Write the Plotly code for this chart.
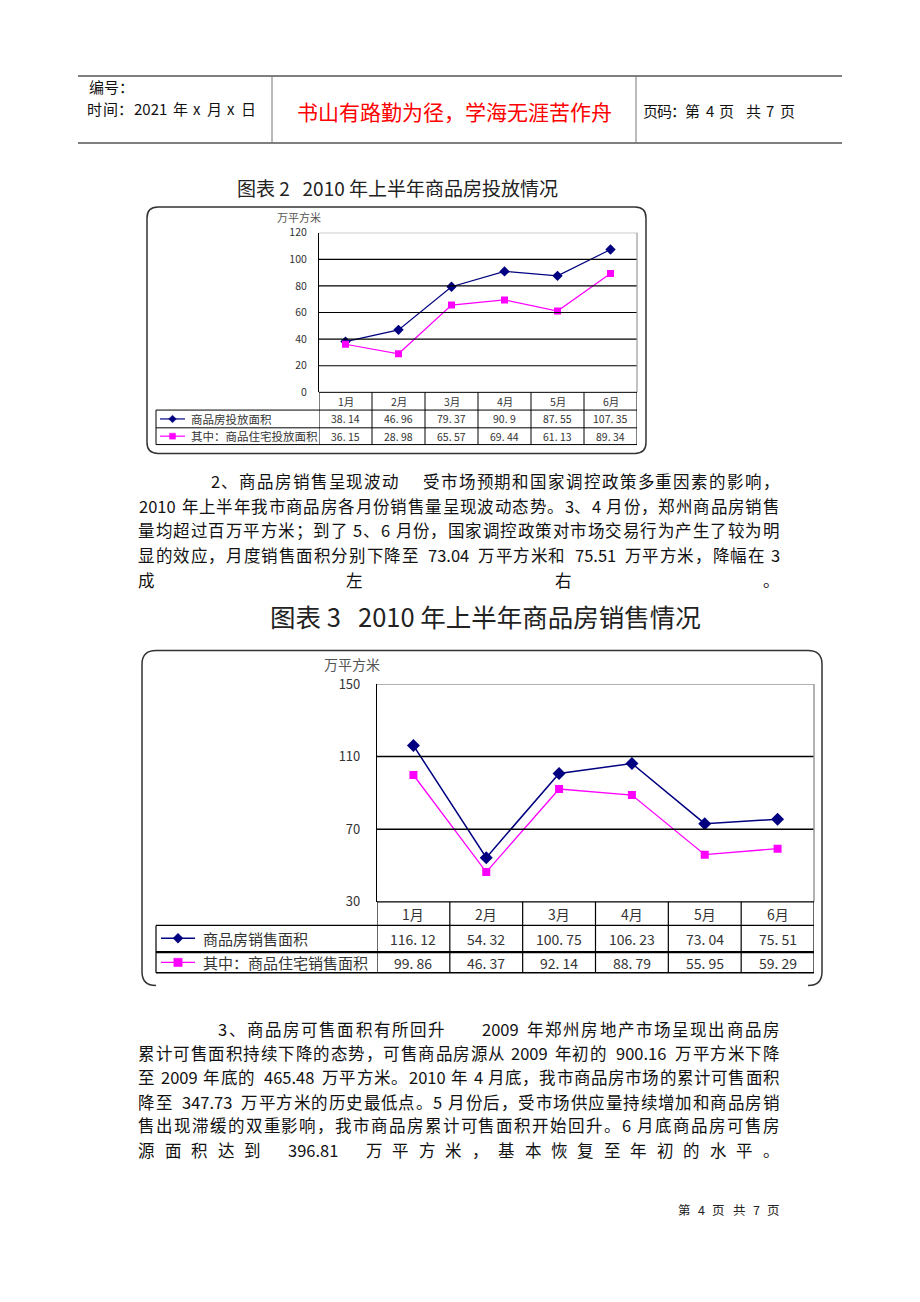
import plotly.graph_objects as go

W, H = 920, 1302
FONT = "Noto Sans CJK SC"
NB = "\u00a0"

# ---------------- data ----------------
months = ["1月", "2月", "3月", "4月", "5月", "6月"]
supply_total = [38.14, 46.96, 79.37, 90.9, 87.55, 107.35]
supply_resid = [36.15, 28.98, 65.57, 69.44, 61.13, 89.34]
sales_total = [116.12, 54.32, 100.75, 106.23, 73.04, 75.51]
sales_resid = [99.86, 46.37, 92.14, 88.79, 55.95, 59.29]
supply_ticks = [0, 20, 40, 60, 80, 100, 120]
sales_ticks = [30, 70, 110, 150]
supply_names = ["商品房投放面积", "其中：商品住宅投放面积"]
sales_names = ["商品房销售面积", "其中：商品住宅销售面积"]
unit_label = "万平方米"
title2 = "图表 2" + NB * 3 + "2010 年上半年商品房投放情况"
title3 = "图表 3" + NB * 3 + "2010 年上半年商品房销售情况"

header_left = ["编号：", "时间：2021 年 x 月 x 日"]
header_mid = "书山有路勤为径，学海无涯苦作舟"
header_right = "页码：第 4 页  共 7 页"
footer = "第 4 页 共 7 页"

para1 = [
    "2、商品房销售呈现波动    受市场预期和国家调控政策多重因素的影响，",
    "2010 年上半年我市商品房各月份销售量呈现波动态势。3、4 月份，郑州商品房销售",
    "量均超过百万平方米；到了 5、6 月份，国家调控政策对市场交易行为产生了较为明",
    "显的效应，月度销售面积分别下降至 73.04 万平方米和 75.51 万平方米，降幅在 3",
    "成左右。",
]
para2 = [
    "3、商品房可售面积有所回升      2009 年郑州房地产市场呈现出商品房",
    "累计可售面积持续下降的态势，可售商品房源从 2009 年初的 900.16 万平方米下降",
    "至 2009 年底的 465.48 万平方米。2010 年 4 月底，我市商品房市场的累计可售面积",
    "降至 347.73 万平方米的历史最低点。5 月份后，受市场供应量持续增加和商品房销",
    "售出现滞缓的双重影响，我市商品房累计可售面积开始回升。6 月底商品房可售房",
    "源面积达到 396.81 万平方米，基本恢复至年初的水平。",
]

# ---------------- helpers ----------------
def X(x):
    return x / W


def Y(y):
    return 1 - y / H


annotations = []
shapes = []


def text(t, x, y, size, color="#000", xanchor="center", xref="paper", family=FONT):
    annotations.append(dict(
        text=t, x=(X(x) if xref == "paper" else x), y=Y(y), xref=xref, yref="paper",
        showarrow=False, xanchor=xanchor, yanchor="middle",
        font=dict(family=family, size=size, color=color)))


def line(x0, y0, x1, y1, color="#000", width=1.0, xref="paper"):
    shapes.append(dict(
        type="line", xref=xref, yref="paper",
        x0=(X(x0) if xref == "paper" else x0), x1=(X(x1) if xref == "paper" else x1),
        y0=Y(y0), y1=Y(y1), line=dict(color=color, width=width)))


def P(x, y):
    return f"{X(x):.5f},{Y(y):.5f}"


def rounded_frame(x0, y0, x1, y1, r, open_bottom=False, color="#333", width=1.5):
    if open_bottom:
        path = (f"M {P(x1 - r, y1)} Q {P(x1, y1)} {P(x1, y1 - r)} L {P(x1, y0 + r)} "
                f"Q {P(x1, y0)} {P(x1 - r, y0)} L {P(x0 + r, y0)} Q {P(x0, y0)} {P(x0, y0 + r)} "
                f"L {P(x0, y1 - r)} Q {P(x0, y1)} {P(x0 + r, y1)}")
    else:
        path = (f"M {P(x0 + r, y0)} L {P(x1 - r, y0)} Q {P(x1, y0)} {P(x1, y0 + r)} "
                f"L {P(x1, y1 - r)} Q {P(x1, y1)} {P(x1 - r, y1)} L {P(x0 + r, y1)} "
                f"Q {P(x0, y1)} {P(x0, y1 - r)} L {P(x0, y0 + r)} Q {P(x0, y0)} {P(x0 + r, y0)} Z")
    shapes.append(dict(type="path", xref="paper", yref="paper", path=path,
                       line=dict(color=color, width=width)))


def diamond(cx, cy, r, color):
    path = f"M {P(cx, cy - r)} L {P(cx + r, cy)} L {P(cx, cy + r)} L {P(cx - r, cy)} Z"
    shapes.append(dict(type="path", xref="paper", yref="paper", path=path,
                       fillcolor=color, line=dict(color=color, width=0.5)))


def square(cx, cy, r, color):
    shapes.append(dict(type="rect", xref="paper", yref="paper",
                       x0=X(cx - r), x1=X(cx + r), y0=Y(cy + r), y1=Y(cy - r),
                       fillcolor=color, line=dict(color=color, width=0.5)))


def wide(ch):
    return ord(ch) > 0x2E7F


def tokenize(s):
    toks = []
    buf = ""
    for ch in s:
        if wide(ch):
            if buf:
                toks.append(buf)
                buf = ""
            toks.append(ch)
        elif ch == " ":
            if buf:
                toks.append(buf)
                buf = ""
            toks.append(" ")
        else:
            buf += ch
    if buf:
        toks.append(buf)
    return toks


def spaced_line(s, x0, x1, y, em=17.4, size=16.5, color="#111", justify=True, space=0.3):
    toks = tokenize(s)
    widths = []
    for t in toks:
        if t == " ":
            widths.append(space * em)
        elif wide(t[0]):
            widths.append(em)
        else:
            widths.append(0.55 * em * len(t))
    total = sum(widths)
    extra = (x1 - x0 - total) / (len(toks) - 1) if (justify and len(toks) > 1) else 0
    x = x0
    for t, w in zip(toks, widths):
        if t != " ":
            text(t, x + w / 2, y, size, color=color)
        x += w + extra


# ---------------- header ----------------
line(78, 67, 842, 67, "#555", 1.5)
line(78, 135, 842, 135, "#555", 1.5)
line(272, 67, 272, 135, "#777", 1)
line(636, 67, 636, 135, "#777", 1)
text(header_left[0], 87, 78, 15, "#111", xanchor="left")
spaced_line(header_left[1], 87, 256, 100, em=15.2, size=15, color="#111")
text(header_mid, 454, 103, 21, "#FF0000")
spaced_line(header_right, 643, 795, 102, em=15.2, size=15, color="#111", space=0.5)

# ---------------- chart 2 (supply) ----------------
c2 = dict(l=319, r=637, t=226, b=388)
text(title2, 397, 180, 19, "#222")
rounded_frame(147, 200, 646, 450, 11)
text(unit_label, 299, 210, 11, "#555")
for v in supply_ticks[1:-1]:
    shapes.append(dict(type="line", xref="paper", yref="y", x0=X(c2["l"]), x1=X(c2["r"]),
                       y0=v, y1=v, line=dict(color="#000", width=1.2)))
shapes.append(dict(type="line", xref="paper", yref="y", x0=X(c2["l"]), x1=X(c2["r"]),
                   y0=supply_ticks[-1], y1=supply_ticks[-1], line=dict(color="#999", width=1.2)))
line(c2["r"], c2["t"], c2["r"], c2["b"], "#999", 1.2)
rows2 = [388, 406, 424, 441]
for i in range(len(months) + 1):
    shapes.append(dict(type="line", xref="x", yref="paper", x0=i - 0.5, x1=i - 0.5,
                       y0=Y(rows2[0]), y1=Y(rows2[-1]), line=dict(color="#000", width=1)))
line(c2["l"], rows2[0], c2["r"], rows2[0], "#000", 1)
for ry in rows2[1:]:
    line(156, ry, c2["r"], ry, "#000", 1)
line(156, rows2[1], 156, rows2[-1], "#000", 1)
for i, m in enumerate(months):
    text(m, m, 397, 10.5, "#333", xref="x")
    text(str(supply_total[i]).replace(".", ". "), m, 415, 10.5, "#333", xref="x")
    text(str(supply_resid[i]).replace(".", ". "), m, 432.5, 10.5, "#333", xref="x")
line(160, 415, 185, 415, "#000080", 1.2)
diamond(172.5, 415, 3.8, "#000080")
line(160, 432.5, 185, 432.5, "#FF00FF", 1.2)
square(172.5, 432.5, 3, "#FF00FF")
text(supply_names[0], 189, 415, 11.5, "#333", xanchor="left")
text(supply_names[1], 189, 432.5, 11.5, "#333", xanchor="left")

# ---------------- paragraph 1 ----------------
p1y = [478, 503, 528, 553, 578]
for s, yy in zip(para1, p1y):
    x0 = 211 if s.startswith("2、") else 138
    spaced_line(s, x0, 780, yy)

# ---------------- chart 3 (sales) ----------------
c3 = dict(l=377, r=814, t=684, b=905)
text(title3, 486, 614, 25.5, "#222")
rounded_frame(142, 650, 822, 990, 14, open_bottom=True)
text(unit_label, 352, 664, 14, "#555")
for v in sales_ticks[1:-1]:
    shapes.append(dict(type="line", xref="paper", yref="y2", x0=X(c3["l"]), x1=X(c3["r"]),
                       y0=v, y1=v, line=dict(color="#000", width=1.5)))
shapes.append(dict(type="line", xref="paper", yref="y2", x0=X(c3["l"]), x1=X(c3["r"]),
                   y0=sales_ticks[-1], y1=sales_ticks[-1], line=dict(color="#999", width=1.5)))
line(c3["r"], c3["t"], c3["r"], c3["b"], "#999", 1.5)
rows3 = [905, 929, 956, 977]
for i in range(len(months) + 1):
    shapes.append(dict(type="line", xref="x2", yref="paper", x0=i - 0.5, x1=i - 0.5,
                       y0=Y(rows3[0]), y1=Y(rows3[-1]), line=dict(color="#000", width=1.2)))
line(c3["l"], rows3[0], c3["r"], rows3[0], "#000", 1.2)
line(156, rows3[1], c3["r"], rows3[1], "#000", 1.2)
line(156, rows3[2], c3["r"], rows3[2], "#000", 2.2)
line(156, rows3[3], c3["r"], rows3[3], "#000", 1.5)
line(156, rows3[1], 156, rows3[-1], "#000", 1.2)
for i, m in enumerate(months):
    text(m, m, 917, 14, "#333", xref="x2")
    text(str(sales_total[i]).replace(".", ". "), m, 943, 14, "#333", xref="x2")
    text(str(sales_resid[i]).replace(".", ". "), m, 967, 14, "#333", xref="x2")
line(161, 942, 195, 942, "#000080", 1.4)
diamond(178, 942, 5, "#000080")
line(161, 966.5, 195, 966.5, "#FF00FF", 1.4)
square(178, 966.5, 4.2, "#FF00FF")
text(sales_names[0], 201, 942, 15, "#333", xanchor="left")
text(sales_names[1], 201, 966.5, 15, "#333", xanchor="left")

# ---------------- paragraph 2 ----------------
p2y = [1034, 1058.5, 1083, 1108, 1132, 1157]
for s, yy in zip(para2, p2y):
    x0 = 218 if s.startswith("3、") else 138
    spaced_line(s, x0, 780, yy)

# ---------------- footer ----------------
spaced_line(footer, 678, 780, 1217, em=12.5, size=12.5, color="#222", space=0.5)

# ---------------- traces ----------------
fig = go.Figure()
fig.add_trace(go.Scatter(x=months, y=supply_total, mode="lines+markers", xaxis="x", yaxis="y",
                         line=dict(color="#000080", width=1.2),
                         marker=dict(symbol="diamond", size=8, color="#000080")))
fig.add_trace(go.Scatter(x=months, y=supply_resid, mode="lines+markers", xaxis="x", yaxis="y",
                         line=dict(color="#FF00FF", width=1.2),
                         marker=dict(symbol="square", size=7, color="#FF00FF")))
fig.add_trace(go.Scatter(x=months, y=sales_total, mode="lines+markers", xaxis="x2", yaxis="y2",
                         line=dict(color="#000080", width=1.5),
                         marker=dict(symbol="diamond", size=10, color="#000080")))
fig.add_trace(go.Scatter(x=months, y=sales_resid, mode="lines+markers", xaxis="x2", yaxis="y2",
                         line=dict(color="#FF00FF", width=1.3),
                         marker=dict(symbol="square", size=8, color="#FF00FF")))

axis_x = dict(type="category", range=[-0.5, len(months) - 0.5], showticklabels=False,
              showgrid=False, zeroline=False, showline=False, ticks="", fixedrange=True)
fig.update_layout(
    width=W, height=H, margin=dict(l=0, r=0, t=0, b=0),
    paper_bgcolor="white", plot_bgcolor="white", showlegend=False,
    xaxis=dict(axis_x, domain=[X(c2["l"]), X(c2["r"])], anchor="y"),
    yaxis=dict(domain=[Y(c2["b"]), Y(c2["t"])], range=[supply_ticks[0], supply_ticks[-1]],
               tickvals=supply_ticks, showgrid=False, zeroline=False, showline=True,
               linecolor="#000", linewidth=1.2, ticks="", ticklabelstandoff=9,
               tickfont=dict(family=FONT, size=10.5, color="#333"), anchor="x", fixedrange=True),
    xaxis2=dict(axis_x, domain=[X(c3["l"]), X(c3["r"])], anchor="y2"),
    yaxis2=dict(domain=[Y(c3["b"]), Y(c3["t"])], range=[sales_ticks[0], sales_ticks[-1]],
                tickvals=sales_ticks, showgrid=False, zeroline=False, showline=True,
                linecolor="#000", linewidth=1.2, ticks="", ticklabelstandoff=13,
                tickfont=dict(family=FONT, size=13, color="#333"), anchor="x2", fixedrange=True),
    annotations=annotations, shapes=shapes,
)

fig.write_html("out.html")
